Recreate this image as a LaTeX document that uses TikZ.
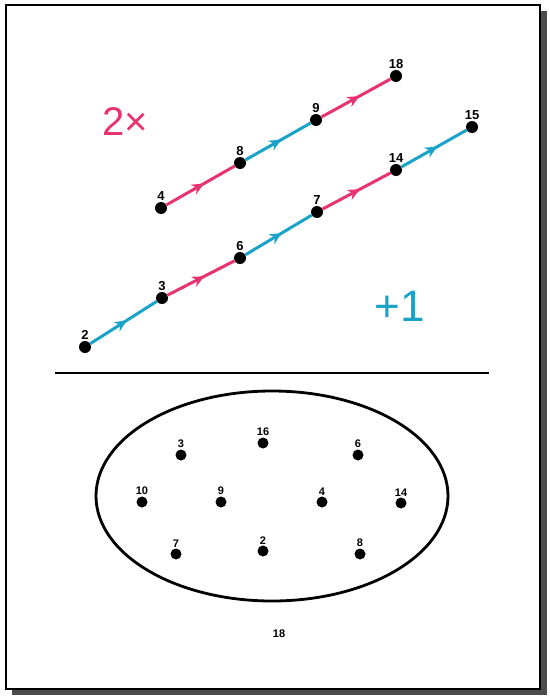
\documentclass[tikz,border=0pt]{standalone}
\usepackage{fontspec}
\setsansfont{Liberation Sans}
\usetikzlibrary{arrows.meta,decorations.markings}
\definecolor{pinkline}{HTML}{E8336E}
\definecolor{cyanline}{HTML}{1AA3C8}
\tikzset{
  dot/.style={circle, fill=black, inner sep=0pt, minimum size=12pt},
  sdot/.style={circle, fill=black, inner sep=0pt, minimum size=11pt},
  lbl/.style={font=\sffamily\bfseries\fontsize{13}{13}\selectfont, inner sep=1pt},
  slbl/.style={font=\sffamily\bfseries\fontsize{11}{11}\selectfont, inner sep=1pt},
  double/.style={pinkline, line width=3pt, decoration={markings, mark=at position 0.55 with {\arrow{Stealth[length=12pt,width=11pt]}}}, postaction={decorate}},
  plusone/.style={cyanline, line width=3pt, decoration={markings, mark=at position 0.55 with {\arrow{Stealth[length=12pt,width=11pt]}}}, postaction={decorate}}
}

\begin{document}
\begin{tikzpicture}[x=1pt,y=-1pt]
\useasboundingbox (0,0) rectangle (549,696);
% frame and shadow
\fill[black!70] (12,11) rectangle (547,695);
\draw[fill=white, line width=2pt] (6,5) rectangle (540,689);
% the two chains
\node[font=\sffamily\fontsize{40}{40}\selectfont, text=pinkline] (dbl) at (125,122) {2\texttimes};
\node[font=\sffamily\fontsize{44}{44}\selectfont, text=cyanline] (inc) at (400,306) {+1};
\node[dot, label={[lbl]above:4}] (a4) at (161,208) {};
\node[dot, label={[lbl]above:8}] (a8) at (240,163) {};
\node[dot, label={[lbl]above:9}] (a9) at (316,120) {};
\node[dot, label={[lbl]above:18}] (a18) at (396,76) {};
\node[dot, label={[lbl]above:2}] (b2) at (85,347) {};
\node[dot, label={[lbl]above:3}] (b3) at (162,298) {};
\node[dot, label={[lbl]above:6}] (b6) at (240,258) {};
\node[dot, label={[lbl]above:7}] (b7) at (317,212) {};
\node[dot, label={[lbl]above:14}] (b14) at (396,170) {};
\node[dot, label={[lbl]above:15}] (b15) at (472,127) {};
\draw[double] (a4) -- (a8);
\draw[plusone] (a8) -- (a9);
\draw[double] (a9) -- (a18);
\draw[plusone] (b2) -- (b3);
\draw[double] (b3) -- (b6);
\draw[plusone] (b6) -- (b7);
\draw[double] (b7) -- (b14);
\draw[plusone] (b14) -- (b15);
% divider
\draw[line width=1.6pt] (55,373) -- (489,373);
% the set
\draw[line width=2.8pt] (272,496) ellipse (176 and 105);
\node[sdot, label={[slbl]above:3}] (c3) at (181,455) {};
\node[sdot, label={[slbl]above:16}] (c16) at (263,443) {};
\node[sdot, label={[slbl]above:6}] (c6) at (358,455) {};
\node[sdot, label={[slbl]above:10}] (c10) at (142,502) {};
\node[sdot, label={[slbl]above:9}] (c9) at (221,502) {};
\node[sdot, label={[slbl]above:4}] (c4) at (322,502) {};
\node[sdot, label={[slbl]above:14}] (c14) at (401,503) {};
\node[sdot, label={[slbl]above:7}] (c7) at (176,554) {};
\node[sdot, label={[slbl]above:2}] (c2) at (263,551) {};
\node[sdot, label={[slbl]above:8}] (c8) at (360,554) {};
\node[slbl] (setname) at (279,634) {18};
\end{tikzpicture}
\end{document}
